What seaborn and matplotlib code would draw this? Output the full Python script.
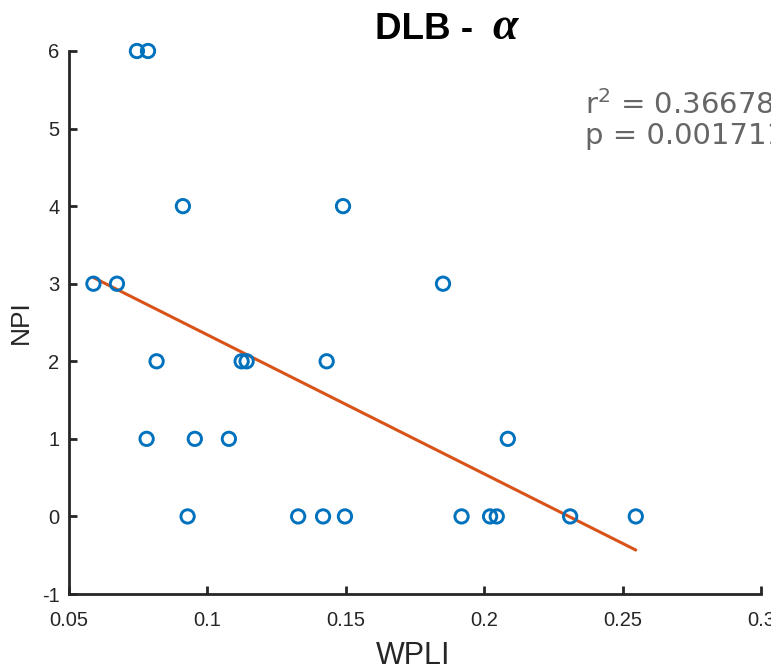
import matplotlib
matplotlib.use("Agg")
import matplotlib.pyplot as plt
import seaborn as sns
import numpy as np
import pandas as pd

# ---- data ----
wpli = [0.0747, 0.0787,
        0.0913, 0.1491,
        0.0590, 0.0675, 0.1852,
        0.0818, 0.1125, 0.1143, 0.1432,
        0.0782, 0.0956, 0.1079, 0.2086,
        0.0930, 0.1329, 0.1419, 0.1498, 0.1919, 0.2022, 0.2046, 0.2311, 0.2548]
npi = [6, 6,
       4, 4,
       3, 3, 3,
       2, 2, 2, 2,
       1, 1, 1, 1,
       0, 0, 0, 0, 0, 0, 0, 0, 0]
x_ticks = [0.05, 0.1, 0.15, 0.2, 0.25, 0.3]
x_tick_labels = ["0.05", "0.1", "0.15", "0.2", "0.25", "0.3"]
y_ticks = [-1, 0, 1, 2, 3, 4, 5, 6]
y_tick_labels = ["-1", "0", "1", "2", "3", "4", "5", "6"]
title_main = "DLB -"
title_greek = "\u03b1"
stat_r2 = "r$^2$ = 0.36678"
stat_p = "p = 0.001711"

df = pd.DataFrame({"WPLI": wpli, "NPI": npi})

sns.set_style("ticks")
plt.rcParams["font.family"] = ["Liberation Sans", "DejaVu Sans"]
plt.rcParams["axes.unicode_minus"] = False
plt.rcParams["mathtext.fontset"] = "custom"
plt.rcParams["mathtext.rm"] = "DejaVu Sans"
plt.rcParams["mathtext.it"] = "DejaVu Sans:italic"
plt.rcParams["mathtext.bf"] = "DejaVu Sans:bold"

W, H = 771, 671
fig = plt.figure(figsize=(W / 100, H / 100), dpi=100)
ax = fig.add_axes([68.5 / W, 1 - 594 / H, (761 - 68.5) / W, (594 - 51) / H])

blue = "#0072BD"
orange = "#D95319"
axcol = "#262626"

sns.scatterplot(data=df, x="WPLI", y="NPI", ax=ax, marker="o", s=92,
                facecolor="none", edgecolor=blue, linewidth=2.1, zorder=3)
sns.regplot(data=df, x="WPLI", y="NPI", ax=ax, scatter=False, ci=None,
            line_kws={"color": orange, "linewidth": 2.2})
for coll in ax.collections:
    coll.set_clip_on(False)

ax.set_xlim(0.05, 0.3)
ax.set_ylim(-1, 6)
ax.set_xticks(x_ticks)
ax.set_xticklabels(x_tick_labels)
ax.set_yticks(y_ticks)
ax.set_yticklabels(y_tick_labels)

for s in ["top", "right"]:
    ax.spines[s].set_visible(False)
for s in ["left", "bottom"]:
    ax.spines[s].set_linewidth(2.0)
    ax.spines[s].set_color(axcol)

ax.tick_params(axis="both", direction="in", length=6, width=2.0,
               color=axcol, labelcolor=axcol, labelsize=14.5)
ax.tick_params(axis="x", pad=12)
ax.tick_params(axis="y", pad=6.5)

ax.set_xlabel("WPLI", fontsize=22, color=axcol)
ax.set_ylabel("NPI", fontsize=19, color=axcol)
ax.xaxis.set_label_coords(0.498, (594 - 641) / 543)
ax.yaxis.set_label_coords((33 - 68.5) / 692.5, 0.5)

# title in two parts (sans bold + serif bold-italic alpha)
fig.text(375 / W, 1 - 39 / H, title_main, fontsize=26.5, fontweight="bold",
         color="black", ha="left", va="baseline")
fig.text(492 / W, 1 - 39 / H, title_greek, fontsize=33, fontweight="bold",
         fontstyle="italic", family=["Liberation Serif", "DejaVu Serif"],
         color="black", ha="left", va="baseline")

# statistics text (clipped by the figure edge as in the reference)
fig.text(585 / W, 1 - 114 / H, stat_r2, fontsize=21, color="#666666",
         family=["DejaVu Sans"], ha="left", va="baseline")
fig.text(585 / W, 1 - 144 / H, stat_p, fontsize=21, color="#666666",
         family=["DejaVu Sans"], ha="left", va="baseline")

fig.savefig("out.png", dpi=100)
